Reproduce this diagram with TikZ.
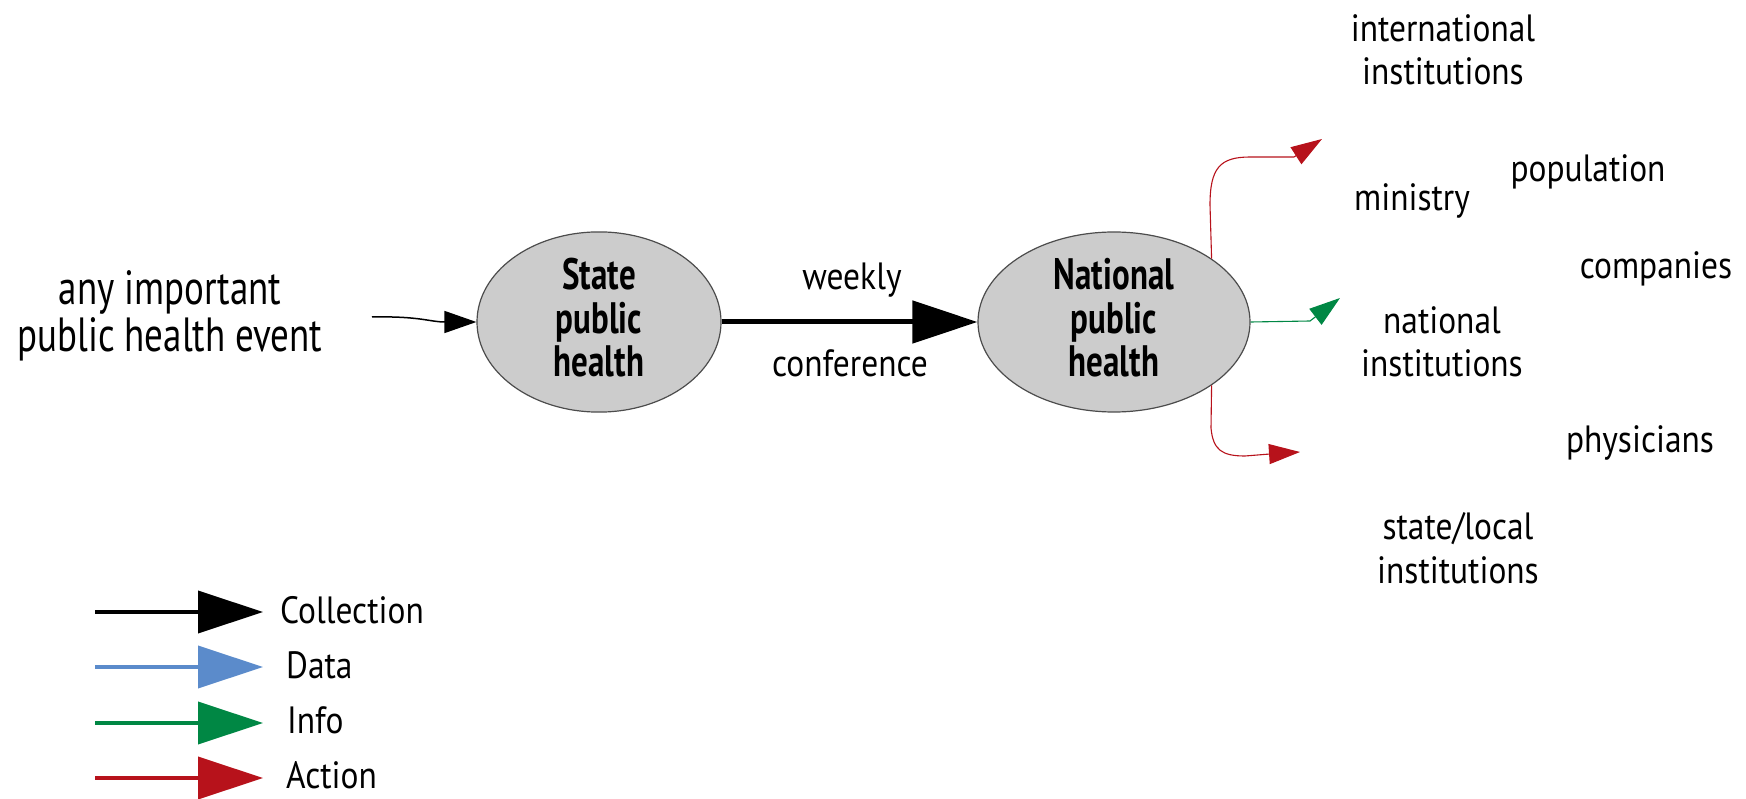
\documentclass[tikz,border=0pt]{standalone}
\usepackage{fontspec}
\setmainfont{PT Sans}
\newfontfamily\mainf{PT Sans}[FakeStretch=0.77]
\newfontfamily\labf{PT Sans}[FakeStretch=0.88]
\newfontfamily\hubf{PT Sans}[FakeStretch=0.75]
\usetikzlibrary{arrows.meta,shapes.geometric}
\definecolor{cblue}{RGB}{91,139,203}
\definecolor{cgreen}{RGB}{0,135,68}
\definecolor{cred}{RGB}{183,18,27}
\definecolor{cfill}{RGB}{204,204,204}
\tikzset{
  lbl/.style={align=center,font=\labf\fontsize{38}{38}\selectfont,inner sep=0pt},
  lbltwo/.style={align=center,font=\labf\fontsize{38}{43.6}\selectfont,inner sep=0pt},
  mainlbl/.style={align=center,font=\mainf\fontsize{48}{47}\selectfont,inner sep=0pt},
  hub/.style={ellipse,draw=black!70,line width=1.2pt,fill=cfill,minimum height=176pt,align=center,font=\hubf\bfseries\fontsize{44}{43.5}\selectfont,inner sep=0pt,text depth=9pt},
  thin/.style={line width=1.1pt},
  smallhead/.style={-{Triangle[length=31pt,width=20pt]}},
  leg/.style={line width=4pt,-{Triangle[length=65pt,width=42pt]}},
}
\begin{document}
\begin{tikzpicture}[x=1pt,y=-1pt]
\useasboundingbox (0,0) rectangle (1746,799);
% main text
\node[mainlbl] (event) at (170,316) {any important\\public health event};
\coordinate (evstart) at (372,317);
\node[hub,minimum width=244pt] (state) at (599,322) {State\\public\\health};
\node[hub,minimum width=272pt] (nat) at (1114,322) {National\\public\\health};
\draw[line width=1.5pt,-{Triangle[length=32pt,width=22pt]}] (evstart) .. controls (420,316) and (430,322) .. (state.west);
\draw[line width=5pt,-{Triangle[length=65pt,width=42pt]}] (state.east) -- (nat.west);
\node[lbl,anchor=base] (weekly) at (852,290) {weekly};
\node[lbl,anchor=base] (conf) at (850,377) {conference};
% outgoing arrows
\coordinate (tipA) at (1322,139);
\coordinate (tipI) at (1340,298);
\coordinate (tipB) at (1300,452);
\draw[cred,thin,smallhead] (nat.33) -- (1210,205) .. controls (1210,168) and (1220,157) .. (1250,157) -- (1294,157) -- (tipA);
\draw[cgreen,thin,smallhead] (nat.east) -- (1310,321) -- (tipI);
\draw[cred,thin,smallhead] (nat.-33) -- (1211,428) .. controls (1213,450) and (1222,456) .. (1245,456) -- (1270,454) -- (tipB);
% labels
\node[lbltwo] (intl) at (1443,49.7) {international\\institutions};
\node[lbl,anchor=base] (ministry) at (1412,211) {ministry};
\node[lbl,anchor=base] (pop) at (1588,182) {population};
\node[lbl,anchor=base] (comp) at (1656,279) {companies};
\node[lbltwo] (natinst) at (1442,341.8) {national\\institutions};
\node[lbl,anchor=base] (phys) at (1640,453) {physicians};
\node[lbltwo] (statel) at (1458,548) {state/local\\institutions};
% legend
\foreach \nm/\yy/\by/\lx/\col/\txt in {lc/612/623/280/black/Collection,ld/667/678/286/cblue/Data,li/723/733/287/cgreen/Info,la/778/788/286/cred/Action}{
  \coordinate (\nm s) at (95,\yy);
  \coordinate (\nm t) at (263,\yy);
  \node[lbl,anchor=base west] (\nm) at (\lx,\by) {\txt};
  \draw[leg,\col] (\nm s) -- (\nm t);
}
\end{tikzpicture}
\end{document}
